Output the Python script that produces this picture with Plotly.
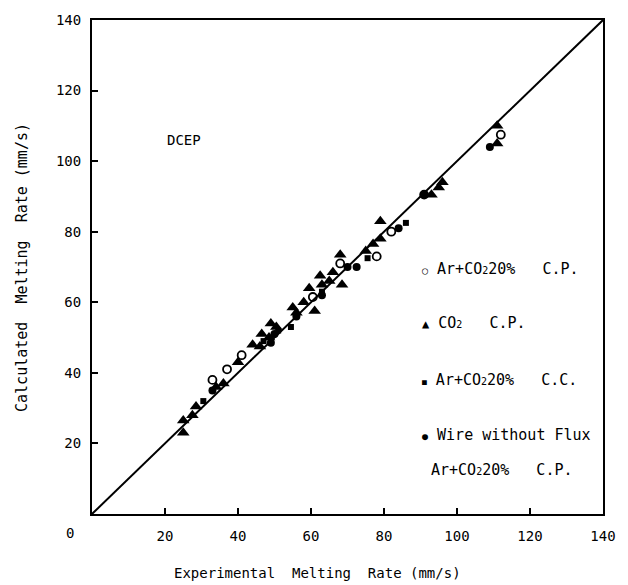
import plotly.graph_objects as go

# Data (mm/s): experimental vs calculated melting rate
arco2_cp_x = [33, 37, 41, 60.5, 68, 78, 82, 91, 112]
arco2_cp_y = [38, 41, 45, 61.5, 71, 73, 80, 90.5, 107.5]

co2_cp_x = [25, 25, 27.5, 28.5, 34, 36, 40, 44, 46, 46.5, 48.5, 49, 50.5, 55, 56, 58, 59.5,
            61, 62.5, 63, 65, 66, 68, 68.5, 75, 77, 79, 79, 93, 95, 96, 111, 111]
co2_cp_y = [26.5, 23, 28, 30.5, 36, 37, 43, 48, 47.5, 51, 50, 54, 53, 58.5, 57, 60, 64,
            57.5, 67.5, 65, 66, 68.5, 73.5, 65, 74.5, 76.5, 83, 78, 90.5, 92.5, 94, 105, 110]

arco2_cc_x = [30.5, 47, 51, 54.5, 63, 75.5, 86]
arco2_cc_y = [32, 49, 52, 53, 63, 72.5, 82.5]

noflux_x = [33, 49, 50, 56, 63, 70, 72.5, 84, 91, 109]
noflux_y = [35, 48.5, 51, 56, 62, 70, 70, 81, 90.5, 104]

ref_line = [0, 140]
tick_vals = [20, 40, 60, 80, 100, 120, 140]

FONT = "DejaVu Sans Mono"
NB = "\u00a0"

fig = go.Figure()
fig.add_trace(go.Scatter(x=ref_line, y=ref_line, mode="lines",
                         line=dict(color="black", width=2), showlegend=False))
fig.add_trace(go.Scatter(x=co2_cp_x, y=co2_cp_y, mode="markers",
                         marker=dict(symbol="triangle-up", size=11, color="black"), showlegend=False))
fig.add_trace(go.Scatter(x=arco2_cc_x, y=arco2_cc_y, mode="markers",
                         marker=dict(symbol="square", size=6, color="black"), showlegend=False))
fig.add_trace(go.Scatter(x=noflux_x, y=noflux_y, mode="markers",
                         marker=dict(symbol="circle", size=8, color="black"), showlegend=False))
fig.add_trace(go.Scatter(x=arco2_cp_x, y=arco2_cp_y, mode="markers",
                         marker=dict(symbol="circle-open", size=8, color="black",
                                     line=dict(width=1.8, color="black")), showlegend=False))

axis_common = dict(range=[0, 140], tickvals=tick_vals, ticks="inside", ticklen=6,
                   tickwidth=2, tickcolor="black", showline=True, linewidth=2,
                   linecolor="black", mirror=True, showgrid=False, zeroline=False,
                   tickfont=dict(family=FONT, size=14, color="black"))
fig.update_xaxes(**axis_common, ticklabelstandoff=8)
fig.update_yaxes(**axis_common, ticklabelstandoff=6)

tfont = dict(family=FONT, size=14, color="black")
fig.add_annotation(xref="paper", yref="paper", x=0.441, y=-0.119, showarrow=False,
                   text=f"Experimental{NB}{NB}Melting{NB}{NB}Rate{NB}(mm/s)", font=tfont,
                   xanchor="center", yanchor="middle")
fig.add_annotation(xref="paper", yref="paper", x=-0.137, y=0.5, showarrow=False, textangle=-90,
                   text=f"Calculated{NB}{NB}Melting{NB}{NB}Rate{NB}(mm/s)",
                   font=dict(family=FONT, size=15, color="black"),
                   xanchor="center", yanchor="middle")
fig.add_annotation(xref="paper", yref="paper", x=-0.043, y=-0.038, showarrow=False,
                   text="0", font=tfont, xanchor="center", yanchor="middle")

sub2 = "<span style='font-size:10px'>2</span>"
lfont = dict(family=FONT, size=15, color="black")
ann = [
    dict(x=89.8, y=69.5, text=f"<span style='font-size:10px'>○</span> Ar+CO{sub2}20%{NB}{NB}{NB}C.P."),
    dict(x=89.8, y=54, text=f"<span style='font-size:12px'>▲</span> CO{sub2}{NB}{NB}{NB}C.P."),
    dict(x=89.8, y=38, text=f"<span style='font-size:8px'>■</span> Ar+CO{sub2}20%{NB}{NB}{NB}C.C."),
    dict(x=89.8, y=22.5, text=f"<span style='font-size:10px'>●</span> Wire{NB}without{NB}Flux"),
    dict(x=92.3, y=12.5, text=f"Ar+CO{sub2}20%{NB}{NB}{NB}C.P."),
]
for a in ann:
    fig.add_annotation(xref="x", yref="y", showarrow=False, xanchor="left", font=lfont, **a)
fig.add_annotation(xref="x", yref="y", x=20, y=106, showarrow=False, xanchor="left",
                   text="DCEP", font=tfont)

fig.update_layout(width=628, height=585, margin=dict(l=92, r=24, t=17, b=71),
                  plot_bgcolor="white", paper_bgcolor="white")
fig.write_html("out.html")
